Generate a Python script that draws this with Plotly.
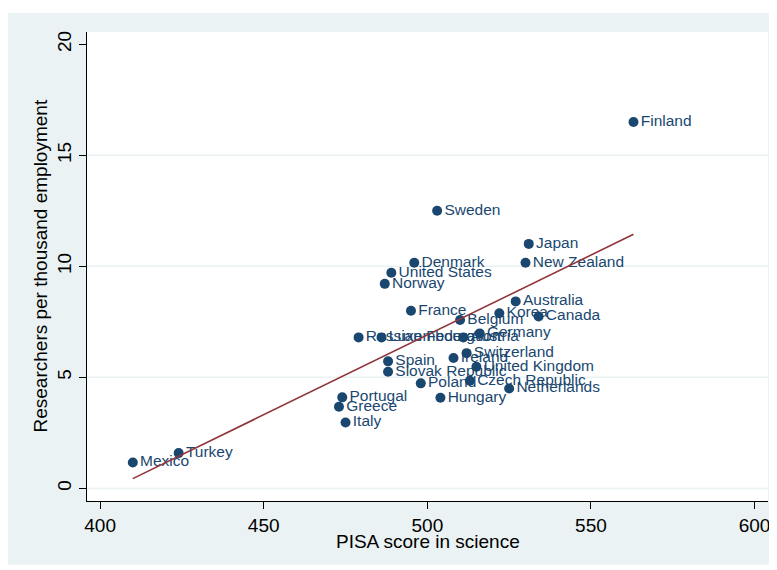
import numpy as np
import plotly.graph_objects as go

countries = ["Finland", "Sweden", "Japan", "New Zealand", "Denmark", "United States",
             "Norway", "Australia", "France", "Korea", "Canada", "Belgium",
             "Russian Federation", "Luxembourg", "Austria", "Germany", "Switzerland",
             "Ireland", "United Kingdom", "Spain", "Slovak Republic", "Poland",
             "Czech Republic", "Netherlands", "Hungary", "Portugal", "Greece", "Italy",
             "Turkey", "Mexico"]
pisa_science = [563, 503, 531, 530, 496, 489,
                487, 527, 495, 522, 534, 510,
                479, 486, 511, 516, 512,
                508, 515, 488, 488, 498,
                513, 525, 504, 474, 473, 475,
                424, 410]
researchers = [16.50, 12.50, 11.01, 10.16, 10.16, 9.71,
               9.21, 8.42, 8.00, 7.89, 7.74, 7.58,
               6.80, 6.80, 6.80, 6.98, 6.09,
               5.87, 5.48, 5.72, 5.25, 4.73,
               4.85, 4.50, 4.08, 4.10, 3.68, 2.97,
               1.59, 1.17]

x_ticks = [400, 450, 500, 550, 600]
y_ticks = [0, 5, 10, 15, 20]
y_grid = [0, 5, 10, 15]
x_title = "PISA score in science"
y_title = "Researchers per thousand employment"

navy = "#1a476f"
maroon = "#90353b"
bg = "#eaf2f3"
font_family = "Liberation Sans, Arial, Helvetica, sans-serif"

xs = np.array(pisa_science, dtype=float)
ys = np.array(researchers, dtype=float)
slope, intercept = np.polyfit(xs, ys, 1)
fit_x = [xs.min(), xs.max()]
fit_y = [intercept + slope * v for v in fit_x]

fig = go.Figure()

fig.add_trace(go.Scatter(
    x=pisa_science, y=researchers, mode="markers+text",
    text=countries, textposition="middle right",
    textfont=dict(family=font_family, size=15.5, color=navy),
    marker=dict(color=navy, size=10, line=dict(width=0)),
    showlegend=False, hoverinfo="skip", cliponaxis=False,
))
fig.add_trace(go.Scatter(
    x=fit_x, y=fit_y, mode="lines",
    line=dict(color=maroon, width=1.6),
    showlegend=False, hoverinfo="skip",
))

# plot area: 680.7 x 469.3 px; outer panel extends to figure edges
shapes = [
    dict(type="rect", xref="paper", yref="paper", x0=-0.1161, x1=1.0151, y0=-0.1358, y1=1.0406,
         fillcolor=bg, line=dict(width=0), layer="below"),
    dict(type="rect", xref="paper", yref="paper", x0=0, x1=1, y0=0, y1=1,
         fillcolor="white", line=dict(width=0), layer="below"),
]
for g in y_grid:
    shapes.append(dict(type="line", xref="paper", yref="y", x0=0, x1=1, y0=g, y1=g,
                       line=dict(color=bg, width=1.5), layer="below"))

annotations = [
    dict(text=x_title, xref="paper", yref="paper", x=0.5, y=0, xanchor="center",
         yanchor="middle", yshift=-40.5, showarrow=False,
         font=dict(family=font_family, size=19, color="black")),
    dict(text=y_title, xref="paper", yref="paper", x=0, y=0.5, xanchor="center",
         yanchor="middle", xshift=-47, textangle=-90, showarrow=False,
         font=dict(family=font_family, size=19, color="black")),
]

fig.update_layout(
    width=769, height=562,
    margin=dict(l=79, r=9.3, t=24, b=68.7, autoexpand=False),
    paper_bgcolor="white", plot_bgcolor="white",
    font=dict(family=font_family, size=19, color="black"),
    shapes=shapes,
    annotations=annotations,
    xaxis=dict(
        range=[396.0, 604.1], tickvals=x_ticks, ticks="outside", ticklen=7,
        tickcolor="black", tickwidth=1, showgrid=False, zeroline=False,
        showline=True, linecolor="black", linewidth=1.3, automargin=False,
        tickfont=dict(size=19),
    ),
    yaxis=dict(
        range=[-0.567, 20.55], tickvals=y_ticks, ticks="outside", ticklen=7,
        tickcolor="black", tickwidth=1, showgrid=False, zeroline=False,
        showline=True, linecolor="black", linewidth=1.3, automargin=False,
        tickangle=-90, tickfont=dict(size=19),
    ),
)

fig.write_html("out.html")
